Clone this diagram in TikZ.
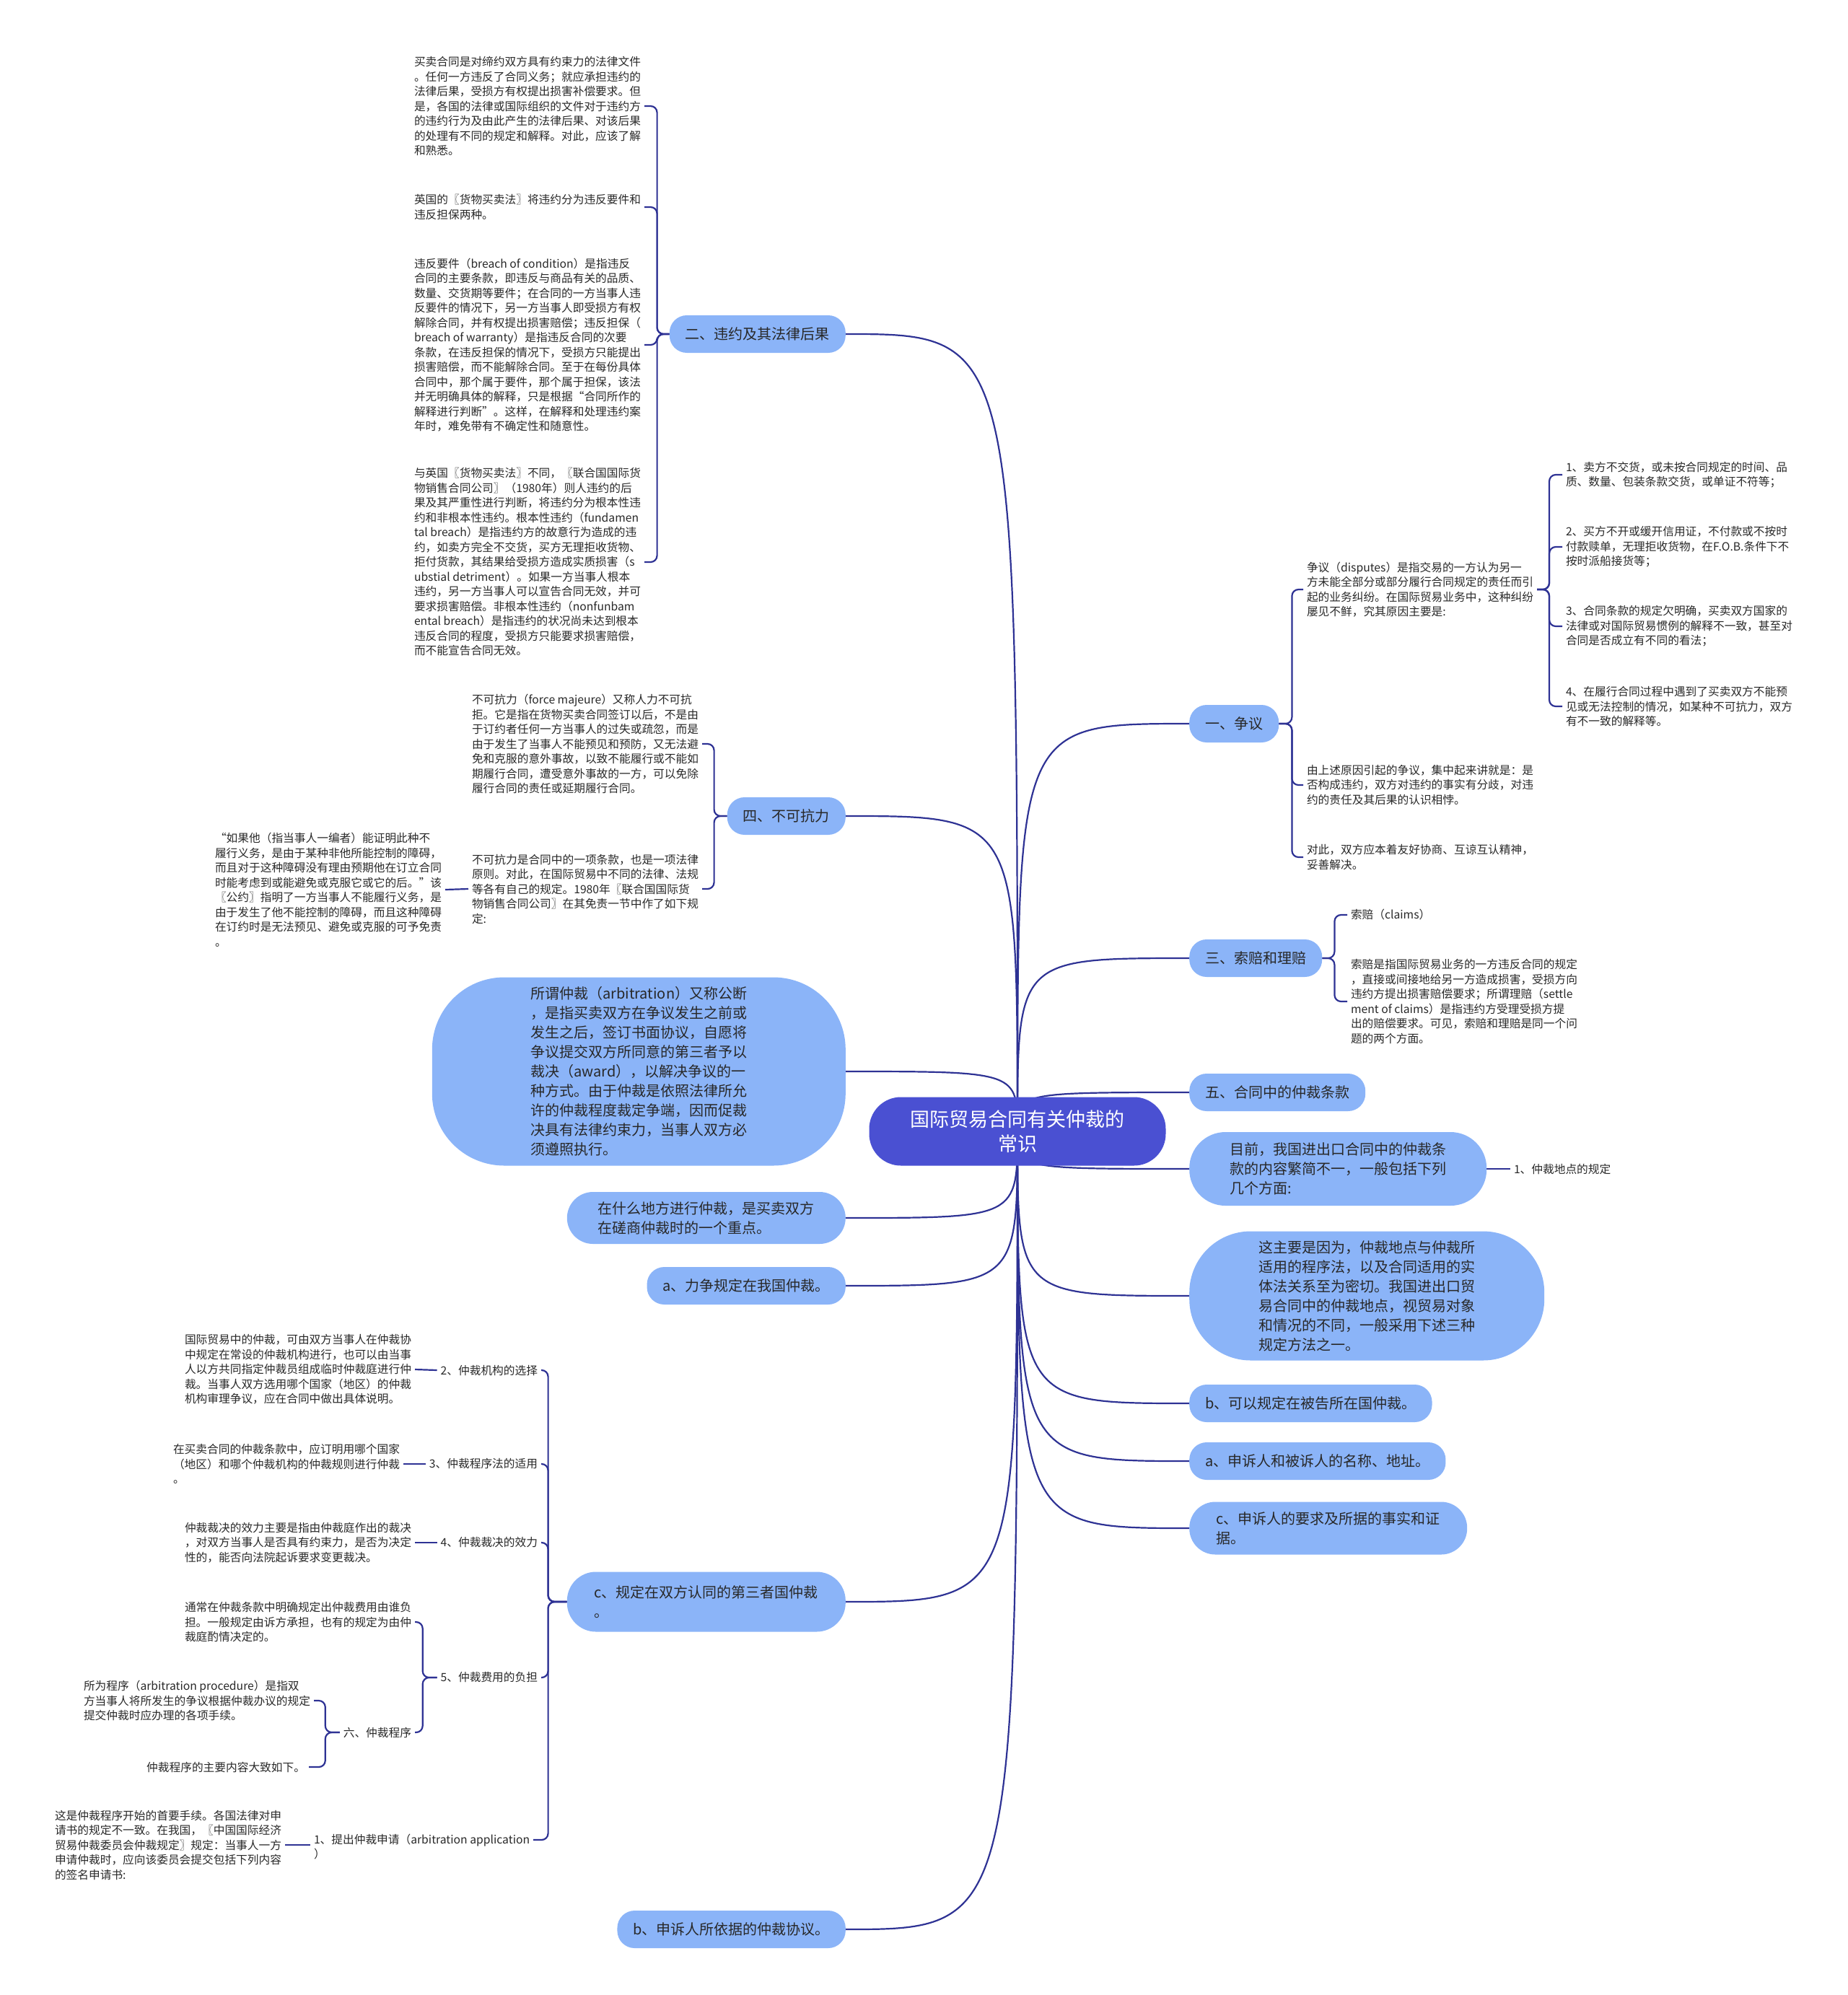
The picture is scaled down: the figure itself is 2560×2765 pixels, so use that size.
\documentclass[tikz,border=0pt]{standalone}
\usepackage{fontspec}
\setmainfont{Noto Sans CJK SC}
\usetikzlibrary{calc}
\definecolor{linkc}{RGB}{46,50,148}
\definecolor{nodec}{RGB}{139,180,248}
\definecolor{rootc}{RGB}{74,80,210}
\definecolor{txtc}{RGB}{40,40,40}
\pgfdeclarelayer{bg}\pgfsetlayers{bg,main}
\begin{document}
\begin{tikzpicture}[x=1pt,y=-1pt,
  conn/.style={draw=linkc, line width=2.2pt},
  brk/.style={conn, rounded corners=9pt},
  lvl/.style={fill=nodec, text=txtc, font=\fontsize{20}{27}\selectfont, align=left, inner xsep=22pt, inner ysep=0pt, minimum height=52pt, rounded corners=24pt},
  txt/.style={text=txtc, font=\fontsize{15.7}{20.5}\selectfont, align=left, inner sep=0pt, outer sep=5pt}]
\useasboundingbox (0,0) rectangle (2560,2765);

% root
\node[fill=rootc, text=white, font=\fontsize{27}{34}\selectfont, align=center, rounded corners=44pt, minimum width=411pt, minimum height=95pt, inner sep=0pt] (root) at (1410,1568) {国际贸易合同有关仲裁的\\常识};

% left level-1
\node[lvl, anchor=east] (n2) at (1172,463) {二、违约及其法律后果};
\node[lvl, anchor=east] (n4) at (1172,1131) {四、不可抗力};
\node[lvl, anchor=east, minimum width=573pt, minimum height=261pt, rounded corners=100pt] (arb) at (1172,1485) {所谓仲裁（arbitration）又称公断\\，是指买卖双方在争议发生之前或\\发生之后，签订书面协议，自愿将\\争议提交双方所同意的第三者予以\\裁决（award），以解决争议的一\\种方式。由于仲裁是依照法律所允\\许的仲裁程度裁定争端，因而促裁\\决具有法律约束力，当事人双方必\\须遵照执行。};
\node[lvl, anchor=east, minimum width=386pt, minimum height=72pt, rounded corners=36pt] (where) at (1172,1688) {在什么地方进行仲裁，是买卖双方\\在磋商仲裁时的一个重点。};
\node[lvl, anchor=east] (ca) at (1172,1782) {a、力争规定在我国仲裁。};
\node[lvl, anchor=east, minimum width=386pt, minimum height=83pt, rounded corners=40pt] (cn) at (1172,2220) {c、规定在双方认同的第三者国仲裁\\。};
\node[lvl, anchor=east] (bn) at (1172,2674) {b、申诉人所依据的仲裁协议。};

% right level-1
\node[lvl, anchor=west] (n1) at (1648,1003) {一、争议};
\node[lvl, anchor=west] (n3) at (1648,1328) {三、索赔和理赔};
\node[lvl, anchor=west] (n5) at (1648,1514) {五、合同中的仲裁条款};
\node[lvl, anchor=west, minimum width=412pt, minimum height=102pt, rounded corners=50pt] (mq) at (1648,1620) {目前，我国进出口合同中的仲裁条\\款的内容繁简不一，一般包括下列\\几个方面:};
\node[lvl, anchor=west, minimum width=492pt, minimum height=179pt, rounded corners=85pt] (why) at (1648,1796) {这主要是因为，仲裁地点与仲裁所\\适用的程序法，以及合同适用的实\\体法关系至为密切。我国进出口贸\\易合同中的仲裁地点，视贸易对象\\和情况的不同，一般采用下述三种\\规定方法之一。};
\node[lvl, anchor=west] (bb) at (1648,1945) {b、可以规定在被告所在国仲裁。};
\node[lvl, anchor=west] (aa) at (1648,2025) {a、申诉人和被诉人的名称、地址。};
\node[lvl, anchor=west, minimum width=385pt, minimum height=73pt, rounded corners=36pt] (cc) at (1648,2118) {c、申诉人的要求及所据的事实和证\\据。};

% top-left texts
\node[txt, anchor=east] (tl1) at (893,147) {买卖合同是对缔约双方具有约束力的法律文件\\。任何一方违反了合同义务；就应承担违约的\\法律后果，受损方有权提出损害补偿要求。但\\是，各国的法律或国际组织的文件对于违约方\\的违约行为及由此产生的法律后果、对该后果\\的处理有不同的规定和解释。对此，应该了解\\和熟悉。};
\node[txt, anchor=east] (tl2) at (893,287) {英国的〖货物买卖法〗将违约分为违反要件和\\违反担保两种。};
\node[txt, anchor=east] (tl3) at (893,478) {违反要件（breach of condition）是指违反\\合同的主要条款，即违反与商品有关的品质、\\数量、交货期等要件；在合同的一方当事人违\\反要件的情况下，另一方当事人即受损方有权\\解除合同，并有权提出损害赔偿；违反担保（\\breach of warranty）是指违反合同的次要\\条款，在违反担保的情况下，受损方只能提出\\损害赔偿，而不能解除合同。至于在每份具体\\合同中，那个属于要件，那个属于担保，该法\\并无明确具体的解释，只是根据“合同所作的\\解释进行判断”。这样，在解释和处理违约案\\年时，难免带有不确定性和随意性。};
\node[txt, anchor=east] (tl4) at (893,779) {与英国〖货物买卖法〗不同，〖联合国国际货\\物销售合同公司〗（1980年）则人违约的后\\果及其严重性进行判断，将违约分为根本性违\\约和非根本性违约。根本性违约（fundamen\\tal breach）是指违约方的故意行为造成的违\\约，如卖方完全不交货，买方无理拒收货物、\\拒付货款，其结果给受损方造成实质损害（s\\ubstial detriment）。如果一方当事人根本\\违约，另一方当事人可以宣告合同无效，并可\\要求损害赔偿。非根本性违约（nonfunbam\\ental breach）是指违约的状况尚未达到根本\\违反合同的程度，受损方只能要求损害赔偿，\\而不能宣告合同无效。};

% force majeure
\node[txt, anchor=east] (f1) at (973,1031) {不可抗力（force majeure）又称人力不可抗\\拒。它是指在货物买卖合同签订以后，不是由\\于订约者任何一方当事人的过失或疏忽，而是\\由于发生了当事人不能预见和预防，又无法避\\免和克服的意外事故，以致不能履行或不能如\\期履行合同，遭受意外事故的一方，可以免除\\履行合同的责任或延期履行合同。};
\node[txt, anchor=east] (f2) at (973,1232) {不可抗力是合同中的一项条款，也是一项法律\\原则。对此，在国际贸易中不同的法律、法规\\等各有自己的规定。1980年〖联合国国际货\\物销售合同公司〗在其免责一节中作了如下规\\定:};
\node[txt, anchor=east] (q) at (617,1233) {“如果他（指当事人一编者）能证明此种不\\履行义务，是由于某种非他所能控制的障碍，\\而且对于这种障碍没有理由预期他在订立合同\\时能考虑到或能避免或克服它或它的后。”该\\〖公约〗指明了一方当事人不能履行义务，是\\由于发生了他不能控制的障碍，而且这种障碍\\在订约时是无法预见、避免或克服的可予免责\\。};

% dispute texts
\node[txt, anchor=west] (d1) at (1806,817) {争议（disputes）是指交易的一方认为另一\\方未能全部分或部分履行合同规定的责任而引\\起的业务纠纷。在国际贸易业务中，这种纠纷\\屡见不鲜，究其原因主要是:};
\node[txt, anchor=west] (d2) at (1806,1088) {由上述原因引起的争议，集中起来讲就是：是\\否构成违约，双方对违约的事实有分歧，对违\\约的责任及其后果的认识相悖。};
\node[txt, anchor=west] (d3) at (1806,1188) {对此，双方应本着友好协商、互谅互认精神，\\妥善解决。};
\node[txt, anchor=west] (i1) at (2165,658) {1、卖方不交货，或未按合同规定的时间、品\\质、数量、包装条款交货，或单证不符等；};
\node[txt, anchor=west] (i2) at (2165,758) {2、买方不开或缓开信用证，不付款或不按时\\付款赎单，无理拒收货物，在F.O.B.条件下不\\按时派船接货等；};
\node[txt, anchor=west] (i3) at (2165,868) {3、合同条款的规定欠明确，买卖双方国家的\\法律或对国际贸易惯例的解释不一致，甚至对\\合同是否成立有不同的看法；};
\node[txt, anchor=west] (i4) at (2165,979) {4、在履行合同过程中遇到了买卖双方不能预\\见或无法控制的情况，如某种不可抗力，双方\\有不一致的解释等。};

% claims
\node[txt, anchor=west] (s1) at (1867,1268) {索赔（claims）};
\node[txt, anchor=west] (s2) at (1867,1388) {索赔是指国际贸易业务的一方违反合同的规定\\，直接或间接地给另一方造成损害，受损方向\\违约方提出损害赔偿要求；所谓理赔（settle\\ment of claims）是指违约方受理受损方提\\出的赔偿要求。可见，索赔和理赔是同一个问\\题的两个方面。};

\node[txt, anchor=west] (loc) at (2093,1620) {1、仲裁地点的规定};

% bottom-left subtree
\node[txt, anchor=east] (l2) at (750,1899) {2、仲裁机构的选择};
\node[txt, anchor=east] (l3) at (750,2029) {3、仲裁程序法的适用};
\node[txt, anchor=east] (l4) at (750,2138) {4、仲裁裁决的效力};
\node[txt, anchor=east] (l5) at (750,2325) {5、仲裁费用的负担};
\node[txt, anchor=north west] (l1) at (430,2537) {1、提出仲裁申请（arbitration application\\）};
\node[txt, anchor=east] (l6) at (575,2401) {六、仲裁程序};

\node[txt, anchor=east] (t2) at (575,1898) {国际贸易中的仲裁，可由双方当事人在仲裁协\\中规定在常设的仲裁机构进行，也可以由当事\\人以方共同指定仲裁员组成临时仲裁庭进行仲\\裁。当事人双方选用哪个国家（地区）的仲裁\\机构审理争议，应在合同中做出具体说明。};
\node[txt, anchor=east] (t3) at (559,2029) {在买卖合同的仲裁条款中，应订明用哪个国家\\（地区）和哪个仲裁机构的仲裁规则进行仲裁\\。};
\node[txt, anchor=east] (t4) at (575,2138) {仲裁裁决的效力主要是指由仲裁庭作出的裁决\\，对双方当事人是否具有约束力，是否为决定\\性的，能否向法院起诉要求变更裁决。};
\node[txt, anchor=east] (t5a) at (575,2248) {通常在仲裁条款中明确规定出仲裁费用由谁负\\担。一般规定由诉方承担，也有的规定为由仲\\裁庭酌情决定的。};
\node[txt, anchor=east] (t6a) at (435,2357) {所为程序（arbitration procedure）是指双\\方当事人将所发生的争议根据仲裁办议的规定\\提交仲裁时应办理的各项手续。};
\node[txt, anchor=east] (t6b) at (428,2449) {仲裁程序的主要内容大致如下。};
\node[txt, anchor=east] (tlb) at (395,2557) {这是仲裁程序开始的首要手续。各国法律对申\\请书的规定不一致。在我国，〖中国国际经济\\贸易仲裁委员会仲裁规定〗规定：当事人一方\\申请仲裁时，应向该委员会提交包括下列内容\\的签名申请书:};

% connectors
\begin{pgfonlayer}{bg}
\foreach \nn in {n2,n4,arb,where,ca,cn,bn}
  \draw[conn] (root.center) .. controls (root.center |- \nn.east) and (root.center |- \nn.east) .. (\nn.east);
\foreach \nn in {n1,n3,n5,mq,why,bb,aa,cc}
  \draw[conn] (root.center) .. controls (root.center |- \nn.west) and (root.center |- \nn.west) .. (\nn.west);
\foreach \cc in {tl1,tl2,tl3,tl4} \draw[brk] (n2.west) -- ++(-17,0) |- (\cc.east);
\foreach \cc in {f1,f2} \draw[brk] (n4.west) -- ++(-18,0) |- (\cc.east);
\draw[conn] (f2.west) -- (q.east);
\foreach \cc in {d1,d2,d3} \draw[brk] (n1.east) -- ++(18,0) |- (\cc.west);
\foreach \cc in {i1,i2,i3,i4} \draw[brk] (d1.east) -- ++(17,0) |- (\cc.west);
\foreach \cc in {s1,s2} \draw[brk] (n3.east) -- ++(17,0) |- (\cc.west);
\draw[conn] (mq.east) -- (loc.west);
\foreach \cc in {l2,l3,l4,l5} \draw[brk] (cn.west) -- ++(-26,0) |- (\cc.east);
\draw[brk] (cn.west) -- ++(-26,0) |- ([yshift=-13pt]l1.north east);
\draw[conn] (t2.east) -- (l2.west);
\draw[conn] (t3.east) -- (l3.west);
\draw[conn] (t4.east) -- (l4.west);
\foreach \cc in {t5a,l6} \draw[brk] (l5.west) -- ++(-20,0) |- (\cc.east);
\foreach \cc in {t6a,t6b} \draw[brk] (l6.west) -- ++(-20,0) |- (\cc.east);
\draw[conn] (tlb.east) -- (tlb.east -| l1.west);
\end{pgfonlayer}
\end{tikzpicture}
\end{document}
